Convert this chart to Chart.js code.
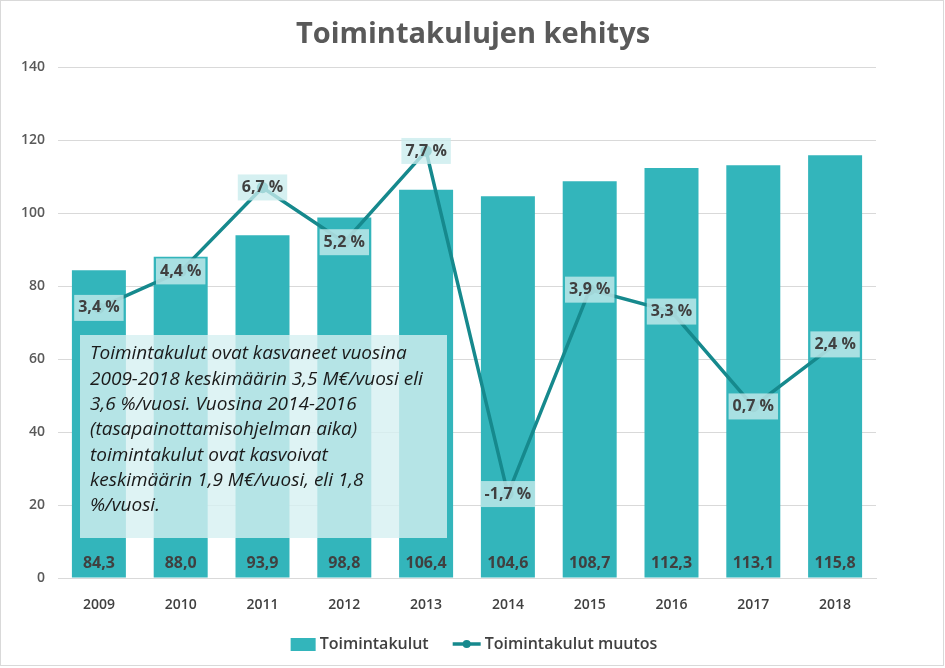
<!DOCTYPE html>
<html>
<head>
<meta charset="utf-8">
<script src="https://cdn.jsdelivr.net/npm/chart.js@4.4.1/dist/chart.umd.min.js"></script>
<style>
  html, body { margin: 0; padding: 0; background: #fff; }
  #wrap { width: 945px; height: 668px; }
</style>
</head>
<body>
<div id="wrap"><canvas id="chart" width="945" height="668"></canvas></div>
<script>
const years = ["2009", "2010", "2011", "2012", "2013", "2014", "2015", "2016", "2017", "2018"]
const costs = [84.3, 88.0, 93.9, 98.8, 106.4, 104.6, 108.7, 112.3, 113.1, 115.8]
const changes = [3.4, 4.4, 6.7, 5.2, 7.7, -1.7, 3.9, 3.3, 0.7, 2.4]
const titleText = "Toimintakulujen kehitys"
const costLabel = "Toimintakulut"
const changeLabel = "Toimintakulut muutos"
const noteLines = [
  "Toimintakulut ovat kasvaneet vuosina",
  "2009-2018 keskimäärin 3,5 M€/vuosi eli",
  "3,6 %/vuosi. Vuosina 2014-2016",
  "(tasapainottamisohjelman aika)",
  "toimintakulut ovat kasvoivat",
  "keskimäärin 1,9 M€/vuosi, eli 1,8",
  "%/vuosi.",
]

const FONT = '"Open Sans", "Liberation Sans", sans-serif'
const BAR = "#33b5bb"
const LINE = "#16898d"
const TEXT = "#404040"

const fmt = (v) => v.toFixed(1).replace(".", ",")

// --- Overlay plugin: frame, title, note box, value labels, legend ---
const overlay = {
  id: "overlay",
  afterDatasetsDraw(chart) {
    const { ctx, chartArea } = chart
    // note box
    const x0 = chartArea.left + 22
    const y0 = 335
    ctx.save()
    ctx.fillStyle = "rgba(214, 240, 241, 0.8)"
    ctx.fillRect(x0, y0, 367, 203)
    ctx.fillStyle = "#1a1a1a"
    ctx.font = `italic 19px ${FONT}`
    ctx.textBaseline = "middle"
    noteLines.forEach((line, i) => {
      ctx.fillText(line, x0 + 10, y0 + 19 + i * 25.3)
    })
    ctx.restore()
  },
  afterDraw(chart) {
    const { ctx, chartArea, width, height } = chart
    ctx.save()

    // frame
    ctx.strokeStyle = "#d9d9d9"
    ctx.lineWidth = 1
    ctx.strokeRect(0.5, 0.5, width - 2, height - 3)

    // title
    ctx.fillStyle = "#595959"
    ctx.font = `bold 29px ${FONT}`
    ctx.textAlign = "center"
    ctx.textBaseline = "middle"
    ctx.fillText(titleText, 473, 35)

    // bar value labels at base
    const barMeta = chart.getDatasetMeta(0)
    ctx.font = `bold 16px ${FONT}`
    ctx.fillStyle = TEXT
    barMeta.data.forEach((el, i) => {
      ctx.fillText(fmt(costs[i]), el.x, chartArea.bottom - 15)
    })

    // line value labels on points
    const lineMeta = chart.getDatasetMeta(1)
    lineMeta.data.forEach((el, i) => {
      const t = fmt(changes[i]) + " %"
      const w = ctx.measureText(t).width + 8
      ctx.fillStyle = "rgba(201, 236, 237, 0.78)"
      ctx.fillRect(el.x - w / 2, el.y - 13, w, 26)
      ctx.fillStyle = TEXT
      ctx.fillText(t, el.x, el.y)
    })

    // legend
    ctx.font = `600 16px ${FONT}`
    ctx.textAlign = "left"
    const w1 = ctx.measureText(costLabel).width
    const w2 = ctx.measureText(changeLabel).width
    const total = 25 + 4 + w1 + 24 + 28 + 4 + w2
    let lx = 474 - total / 2
    const ly = 644
    ctx.fillStyle = BAR
    ctx.fillRect(lx, ly - 6, 25, 13)
    lx += 29
    ctx.fillStyle = TEXT
    ctx.fillText(costLabel, lx, ly)
    lx += w1 + 24
    ctx.strokeStyle = LINE
    ctx.lineWidth = 3.5
    ctx.beginPath()
    ctx.moveTo(lx, ly)
    ctx.lineTo(lx + 28, ly)
    ctx.stroke()
    ctx.fillStyle = LINE
    ctx.beginPath()
    ctx.arc(lx + 14, ly, 4, 0, Math.PI * 2)
    ctx.fill()
    lx += 32
    ctx.fillStyle = TEXT
    ctx.fillText(changeLabel, lx, ly)

    ctx.restore()
  },
}

new Chart(document.getElementById("chart"), {
  data: {
    labels: years,
    datasets: [
      {
        type: "bar",
        label: costLabel,
        data: costs,
        backgroundColor: BAR,
        barPercentage: 0.66,
        categoryPercentage: 1,
        yAxisID: "y",
        order: 2,
      },
      {
        type: "line",
        label: changeLabel,
        data: changes,
        borderColor: LINE,
        backgroundColor: LINE,
        borderWidth: 3.5,
        pointRadius: 4,
        tension: 0,
        yAxisID: "y1",
        order: 1,
      },
    ],
  },
  plugins: [overlay],
  options: {
    responsive: false,
    animation: false,
    layout: { padding: { top: 67, left: 8, right: 69, bottom: 0 } },
    scales: {
      x: {
        grid: { display: false },
        border: { color: "#d9d9d9" },
        ticks: { color: TEXT, padding: 11, font: { family: FONT, size: 14, weight: "600" } },
        afterFit: (s) => { s.height = 90 },
      },
      y: {
        min: 0,
        max: 140,
        ticks: { stepSize: 20, color: "#595959", padding: 13, font: { family: FONT, size: 14, weight: "600" } },
        grid: { color: "#d9d9d9", drawTicks: false },
        border: { display: false },
        afterFit: (s) => { s.width = 50 },
      },
      y1: {
        display: false,
        min: -4,
        max: 10,
      },
    },
    plugins: {
      legend: { display: false },
      tooltip: { enabled: false },
      title: { display: false },
    },
  },
})
</script>
</body>
</html>
